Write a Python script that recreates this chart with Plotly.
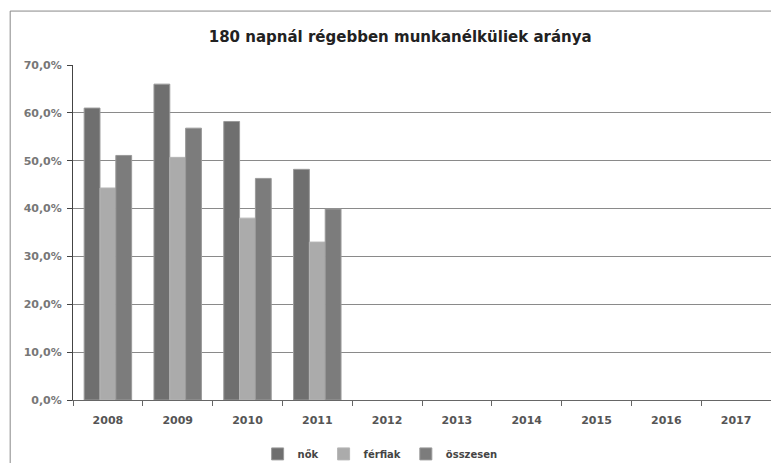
import plotly.graph_objects as go

years = ["2008", "2009", "2010", "2011", "2012", "2013", "2014", "2015", "2016", "2017"]
nok = [0.610, 0.660, 0.582, 0.482, None, None, None, None, None, None]
ferfiak = [0.443, 0.507, 0.380, 0.330, None, None, None, None, None, None]
osszesen = [0.511, 0.568, 0.463, 0.399, None, None, None, None, None, None]

fig = go.Figure()
fig.add_trace(go.Bar(x=years, y=nok, name="nők",
                     marker=dict(color="#6f6f6f", line=dict(color="#9a9a9a", width=1))))
fig.add_trace(go.Bar(x=years, y=ferfiak, name="férfiak",
                     marker=dict(color="#ababab", line=dict(color="#b5b5b5", width=1))))
fig.add_trace(go.Bar(x=years, y=osszesen, name="összesen",
                     marker=dict(color="#7c7c7c", line=dict(color="#9a9a9a", width=1))))

# page has an 8px body margin, so the figure is sized to fit inside it
fig.update_layout(
    width=763, height=455,
    margin=dict(l=65, r=0, t=57, b=63),
    paper_bgcolor="white", plot_bgcolor="white",
    separators=", ",
    barmode="group", bargap=0.32, bargroupgap=0,
    font=dict(family="DejaVu Sans", size=10, color="#555555"),
    title=dict(text="<b>180 napnál régebben munkanélküliek aránya</b>",
               x=0.514, xanchor="center", y=0.936, yanchor="middle",
               font=dict(size=15, color="#222222")),
    legend=dict(orientation="h", x=0.44, xanchor="center",
                yref="container", y=0.02, yanchor="middle",
                font=dict(size=10, color="#444444", weight="bold"), itemwidth=30,
                tracegroupgap=0),
    showlegend=True,
)
fig.update_yaxes(range=[0, 0.7], dtick=0.1, tickformat=".1%", automargin=False,
                 showgrid=True, gridcolor="#8a8a8a", gridwidth=1,
                 showline=True, linecolor="#444444", ticks="outside", ticklen=5,
                 tickcolor="#444444", ticklabelstandoff=3,
                 tickfont=dict(family="DejaVu Sans", size=11, color="#777777", weight="bold"))
fig.update_xaxes(showline=True, linecolor="#666666", ticks="outside", tickson="boundaries",
                 ticklen=5, tickcolor="#666666", automargin=False, ticklabelstandoff=10,
                 tickfont=dict(family="DejaVu Sans", size=11, color="#555555", weight="bold"))
fig.add_shape(type="rect", xref="paper", yref="paper", x0=-0.09, x1=1.05, y0=-0.25, y1=1.161,
              line=dict(color="#888888", width=1))

fig.write_html("out.html")
